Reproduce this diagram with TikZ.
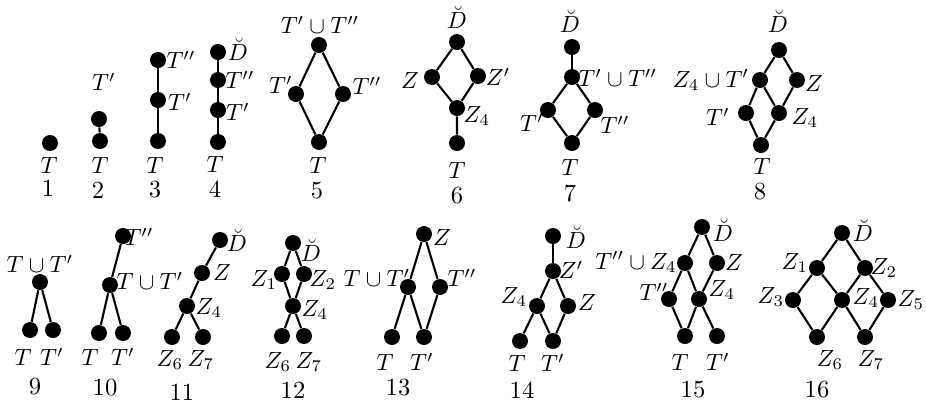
\documentclass[tikz,border=0pt]{standalone}
\usepackage{amsmath}
\usepackage{amssymb}
\usetikzlibrary{positioning}

\begin{document}
\begin{tikzpicture}[x=0.015cm, y=-0.015cm,
  dot/.style={circle, fill=black, inner sep=0pt, minimum size=0.24cm},
  lab/.style={inner sep=0pt, font=\fontsize{10}{12}\selectfont},
  num/.style={inner sep=0pt, font=\fontsize{10.5}{12}\selectfont},
  edge/.style={line width=0.9pt}]
\useasboundingbox (0,0) rectangle (926,405);

% Lattice 1
\node[dot] (a1) at (50,143) {};
\node[lab] (a1t) at (49,165) {$T$};
\node[num] (n1) at (48,188) {1};

% Lattice 2
\node[dot] (a2) at (100,141) {};
\node[dot] (b2) at (99,119) {};
\node[lab] (b2t) at (104,82) {$T'$};
\node[lab] (a2t) at (100,165) {$T$};
\node[num] (n2) at (98,190) {2};
\draw[edge] (a2) -- (b2);

% Lattice 3
\node[dot] (a3) at (158,141) {};
\node[dot] (b3) at (158,100) {};
\node[dot] (c3) at (158,60) {};
\node[lab] (c3t) at (181,60) {$T''$};
\node[lab] (b3t) at (180,102) {$T'$};
\node[lab] (a3t) at (155,165) {$T$};
\node[num] (n3) at (155,190) {3};
\draw[edge] (a3) -- (b3) -- (c3);

% Lattice 4
\node[dot] (a4) at (218,142) {};
\node[dot] (b4) at (218,110) {};
\node[dot] (c4) at (218,80) {};
\node[dot] (d4) at (218,52) {};
\node[lab] (d4t) at (238,49) {$\breve{D}$};
\node[lab] (c4t) at (240,80) {$T''$};
\node[lab] (b4t) at (238,112) {$T'$};
\node[lab] (a4t) at (215,164) {$T$};
\node[num] (n4) at (215,189) {4};
\draw[edge] (a4) -- (b4) -- (c4) -- (d4);

% Lattice 5
\node[dot] (top5) at (319,45) {};
\node[dot] (l5) at (296,94) {};
\node[dot] (r5) at (343,94) {};
\node[dot] (bot5) at (319,142) {};
\node[lab] (top5t) at (320,25) {$T'\cup T''$};
\node[lab] (l5t) at (281,85) {$T'$};
\node[lab] (r5t) at (367,86) {$T''$};
\node[lab] (bot5t) at (318,165) {$T$};
\node[num] (n5) at (317,191) {5};
\draw[edge] (bot5) -- (l5) -- (top5) -- (r5) -- (bot5);

% Lattice 6
\node[dot] (top6) at (457,42) {};
\node[dot] (l6) at (432,77) {};
\node[dot] (r6) at (478,76) {};
\node[dot] (z6) at (457,108) {};
\node[dot] (bot6) at (457,143) {};
\node[lab] (top6t) at (457,17) {$\breve{D}$};
\node[lab] (l6t) at (410,80) {$Z$};
\node[lab] (r6t) at (498,77) {$Z'$};
\node[lab] (z6t) at (477,116) {$Z_4$};
\node[lab] (bot6t) at (457,170) {$T$};
\node[num] (n6) at (457,196) {6};
\draw[edge] (z6) -- (l6) -- (top6) -- (r6) -- (z6) -- (bot6);

% Lattice 7
\node[dot] (top7) at (572,47) {};
\node[dot] (u7) at (572,77) {};
\node[dot] (l7) at (548,110) {};
\node[dot] (r7) at (595,110) {};
\node[dot] (bot7) at (572,143) {};
\node[lab] (top7t) at (570,21) {$\breve{D}$};
\node[lab, anchor=west] (u7t) at (578,78) {$T'\cup T''$};
\node[lab] (l7t) at (532,123) {$T'$};
\node[lab] (r7t) at (615,125) {$T''$};
\node[lab] (bot7t) at (570,167) {$T$};
\node[num] (n7) at (570,193) {7};
\draw[edge] (top7) -- (u7);
\draw[edge] (bot7) -- (l7) -- (u7) -- (r7) -- (bot7);

% Lattice 8
\node[dot] (top8) at (779,50) {};
\node[dot] (zl8) at (760,80) {};
\node[dot] (z8) at (797,80) {};
\node[dot] (tp8) at (746,113) {};
\node[dot] (zf8) at (779,113) {};
\node[dot] (bot8) at (761,145) {};
\node[lab] (top8t) at (778,21) {$\breve{D}$};
\node[lab] (zl8t) at (711,80) {$Z_4\cup T'$};
\node[lab] (z8t) at (814,83) {$Z$};
\node[lab] (tp8t) at (718,117) {$T'$};
\node[lab] (zf8t) at (805,118) {$Z_4$};
\node[lab] (bot8t) at (762,166) {$T$};
\node[num] (n8) at (760,192) {8};
\draw[edge] (top8) -- (zl8) -- (tp8) -- (bot8) -- (zf8) -- (z8) -- (top8);
\draw[edge] (zl8) -- (zf8);

% Lattice 9
\node[dot] (top9) at (40,282) {};
\node[dot] (l9) at (30,330) {};
\node[dot] (r9) at (53,330) {};
\node[lab] (top9t) at (40,264) {$T\cup T'$};
\node[lab] (l9t) at (23,357) {$T$};
\node[lab] (r9t) at (52,357) {$T'$};
\node[num] (n9) at (35,387) {9};
\draw[edge] (l9) -- (top9) -- (r9);

% Lattice 10
\node[dot] (top10) at (123,236) {};
\node[dot] (m10) at (110,285) {};
\node[dot] (l10) at (99,333) {};
\node[dot] (r10) at (123,333) {};
\node[lab] (top10t) at (139,237) {$T''$};
\node[lab] (m10t) at (150,281) {$T\cup T'$};
\node[lab] (l10t) at (90,357) {$T$};
\node[lab] (r10t) at (123,357) {$T'$};
\node[num] (n10) at (105,388) {10};
\draw[edge] (top10) -- (m10);
\draw[edge] (l10) -- (m10) -- (r10);

% Lattice 11
\node[dot] (top11) at (220,240) {};
\node[dot] (z11) at (202,273) {};
\node[dot] (zf11) at (187,306) {};
\node[dot] (zs11) at (172,337) {};
\node[dot] (zv11) at (203,337) {};
\node[lab] (top11t) at (237,240) {$\breve{D}$};
\node[lab] (z11t) at (222,272) {$Z$};
\node[lab] (zf11t) at (209,308) {$Z_4$};
\node[lab] (zs11t) at (170,360) {$Z_6$};
\node[lab] (zv11t) at (201,360) {$Z_7$};
\node[num] (n11) at (182,392) {11};
\draw[edge] (top11) -- (z11) -- (zf11);
\draw[edge] (zs11) -- (zf11) -- (zv11);

% Lattice 12
\node[dot] (top12) at (293,243) {};
\node[dot] (z1a) at (282,274) {};
\node[dot] (z2a) at (304,274) {};
\node[dot] (z4a) at (293,306) {};
\node[dot] (z6a) at (282,336) {};
\node[dot] (z7a) at (304,336) {};
\node[lab] (top12t) at (311,250) {$\breve{D}$};
\node[lab] (z1at) at (264,280) {$Z_1$};
\node[lab] (z2at) at (323,280) {$Z_2$};
\node[lab] (z4at) at (315,310) {$Z_4$};
\node[lab] (z6at) at (278,362) {$Z_6$};
\node[lab] (z7at) at (309,362) {$Z_7$};
\node[num] (n12) at (293,390) {12};
\draw[edge] (z4a) -- (z1a) -- (top12) -- (z2a) -- (z4a);
\draw[edge] (z6a) -- (z4a) -- (z7a);

% Lattice 13
\node[dot] (z13) at (424,234) {};
\node[dot] (u13) at (408,287) {};
\node[dot] (tpp13) at (440,287) {};
\node[dot] (t13) at (392,337) {};
\node[dot] (tp13) at (424,337) {};
\node[lab] (z13t) at (442,237) {$Z$};
\node[lab] (u13t) at (377,278) {$T\cup T'$};
\node[lab] (tpp13t) at (462,278) {$T''$};
\node[lab] (t13t) at (385,362) {$T$};
\node[lab] (tp13t) at (422,362) {$T'$};
\node[num] (n13) at (398,388) {13};
\draw[edge] (u13) -- (z13) -- (tpp13) -- (tp13) -- (u13) -- (t13);

% Lattice 14
\node[dot] (top14) at (553,236) {};
\node[dot] (zp14) at (553,271) {};
\node[dot] (zf14) at (537,306) {};
\node[dot] (z14) at (568,306) {};
\node[dot] (t14) at (520,341) {};
\node[dot] (tp14) at (553,341) {};
\node[lab] (top14t) at (576,237) {$\breve{D}$};
\node[lab] (zp14t) at (571,270) {$Z'$};
\node[lab] (zf14t) at (514,297) {$Z_4$};
\node[lab] (z14t) at (587,302) {$Z$};
\node[lab] (t14t) at (517,363) {$T$};
\node[lab] (tp14t) at (553,363) {$T'$};
\node[num] (n14) at (522,390) {14};
\draw[edge] (top14) -- (zp14);
\draw[edge] (t14) -- (zf14) -- (zp14) -- (z14) -- (tp14) -- (zf14);

% Lattice 15
\node[dot] (top15) at (702,227) {};
\node[dot] (u15) at (685,263) {};
\node[dot] (z15) at (717,263) {};
\node[dot] (tpp15) at (669,299) {};
\node[dot] (zf15) at (699,299) {};
\node[dot] (t15) at (685,336) {};
\node[dot] (tp15) at (717,336) {};
\node[lab] (top15t) at (723,230) {$\breve{D}$};
\node[lab] (u15t) at (636,262) {$T''\cup Z_4$};
\node[lab] (z15t) at (734,262) {$Z$};
\node[lab] (tpp15t) at (654,292) {$T''$};
\node[lab] (zf15t) at (722,290) {$Z_4$};
\node[lab] (t15t) at (680,362) {$T$};
\node[lab] (tp15t) at (718,362) {$T'$};
\node[num] (n15) at (693,390) {15};
\draw[edge] (top15) -- (u15) -- (tpp15) -- (t15) -- (zf15) -- (u15);
\draw[edge] (top15) -- (z15) -- (zf15) -- (tp15);

% Lattice 16
\node[dot] (top16) at (842,233) {};
\node[dot] (z1b) at (817,268) {};
\node[dot] (z2b) at (865,268) {};
\node[dot] (z3b) at (793,300) {};
\node[dot] (z4b) at (842,300) {};
\node[dot] (z5b) at (888,300) {};
\node[dot] (z6b) at (817,337) {};
\node[dot] (z7b) at (865,337) {};
\node[lab] (top16t) at (863,230) {$\breve{D}$};
\node[lab] (z1bt) at (795,263) {$Z_1$};
\node[lab] (z2bt) at (884,268) {$Z_2$};
\node[lab] (z3bt) at (771,297) {$Z_3$};
\node[lab] (z4bt) at (866,298) {$Z_4$};
\node[lab] (z5bt) at (911,300) {$Z_5$};
\node[lab] (z6bt) at (830,360) {$Z_6$};
\node[lab] (z7bt) at (871,360) {$Z_7$};
\node[num] (n16) at (817,390) {16};
\draw[edge] (z3b) -- (z1b) -- (top16) -- (z2b) -- (z5b) -- (z7b) -- (z4b) -- (z6b) -- (z3b);
\draw[edge] (z1b) -- (z4b) -- (z2b);

\end{tikzpicture}
\end{document}
